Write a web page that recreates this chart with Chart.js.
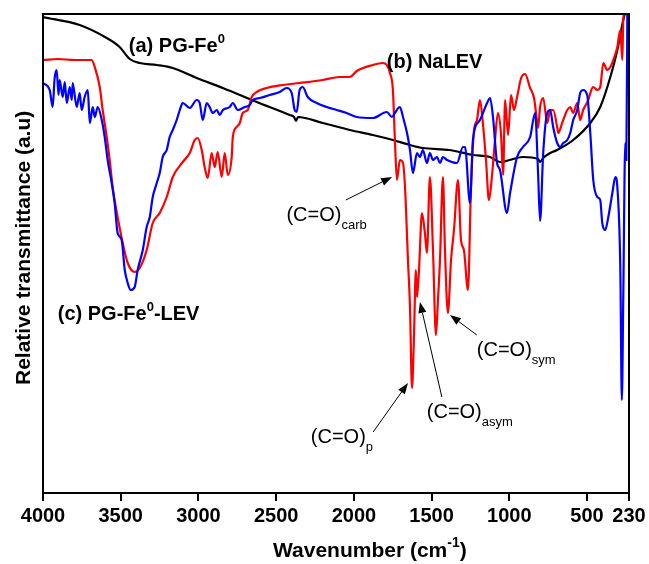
<!DOCTYPE html>
<html>
<head>
<meta charset="utf-8">
<script src="https://cdn.jsdelivr.net/npm/chart.js@4"></script>
<style>
  html, body { margin: 0; padding: 0; background: #fff; }
  #ftir { display: block; }
</style>
</head>
<body>
<canvas id="ftir" width="649" height="564"></canvas>
<script>
// x axis ticks (cm-1)
const tickVals = [4000, 3500, 3000, 2500, 2000, 1500, 1000, 500, 230];

// (a) PG-Fe0
const blackWn = [4000, 3764, 3590, 3507, 3442, 3378, 3268, 3165, 3011, 2843, 2625, 2413, 2385, 2372, 2360, 2200, 2026, 1878, 1749, 1639, 1556, 1382, 1234, 1124, 1060, 912, 815, 802, 782, 737, 692, 589, 479, 415, 350, 305, 267, 247, 230];
const blackT = [47.6, 46.8, 45.5, 44.6, 43.4, 43.0, 42.8, 42.5, 41.5, 40.5, 39.1, 37.8, 37.6, 37.2, 37.6, 37.0, 36.3, 35.8, 35.3, 34.8, 34.5, 34.3, 33.8, 33.6, 33.1, 33.6, 33.4, 33.1, 33.5, 34.0, 34.3, 35.3, 37.0, 38.6, 41.6, 44.3, 47.3, 48.5, 50];

// (b) NaLEV
const redWn = [4000, 3900, 3800, 3687, 3667, 3635, 3616, 3590, 3571, 3552, 3520, 3487, 3455, 3410, 3378, 3333, 3294, 3249, 3204, 3165, 3101, 3056, 3024, 3004, 2979, 2960, 2940, 2915, 2895, 2876, 2850, 2831, 2811, 2786, 2779, 2754, 2734, 2715, 2683, 2657, 2625, 2561, 2458, 2349, 2200, 2091, 2026, 1981, 1878, 1814, 1788, 1768, 1749, 1736, 1723, 1704, 1684, 1671, 1652, 1639, 1626, 1614, 1601, 1594, 1581, 1562, 1543, 1530, 1511, 1491, 1472, 1459, 1446, 1427, 1414, 1395, 1375, 1356, 1330, 1311, 1292, 1266, 1247, 1227, 1208, 1189, 1169, 1150, 1131, 1111, 1092, 1073, 1053, 1040, 1027, 1008, 989, 970, 950, 924, 899, 866, 841, 821, 815, 802, 782, 756, 737, 718, 692, 685, 660, 627, 608, 589, 563, 544, 525, 492, 479, 460, 434, 415, 395, 370, 350, 331, 305, 286, 273, 267, 254];
const redT = [43.3, 43.4, 43.3, 43.3, 42.6, 40.6, 38.3, 35.6, 33.3, 30.6, 27.6, 25.0, 23.0, 22.1, 22.5, 24.3, 27.0, 28.0, 29.6, 31.6, 33.1, 34.0, 35.3, 35.5, 34.3, 32.6, 31.5, 34.0, 32.6, 34.1, 31.6, 34.0, 31.8, 33.6, 35.6, 36.6, 37.0, 38.0, 38.3, 39.6, 40.1, 40.5, 40.8, 41.0, 41.3, 41.6, 41.6, 42.2, 42.8, 43.0, 42.8, 42.0, 40.3, 35.3, 31.3, 33.3, 33.0, 30.6, 23.3, 18.6, 10.5, 15.3, 22.3, 19.6, 22.3, 28.0, 26.0, 24.0, 31.6, 24.3, 15.8, 19.3, 23.3, 31.6, 24.3, 18.0, 23.3, 26.3, 31.3, 25.3, 24.3, 20.3, 30.3, 36.3, 37.3, 39.3, 36.8, 33.3, 29.3, 31.8, 35.3, 38.0, 35.8, 31.8, 39.3, 35.8, 39.8, 38.3, 39.6, 41.5, 41.9, 40.5, 39.5, 37.1, 36.5, 38.6, 39.5, 37.0, 38.3, 38.3, 36.6, 36.0, 37.0, 38.3, 38.6, 38.0, 39.0, 37.3, 38.3, 39.3, 40.0, 40.6, 40.3, 40.6, 43.0, 42.3, 42.6, 43.3, 44.6, 46.3, 43.3, 47.3, 48.5];

// (c) PG-Fe0-LEV
const blueWn = [4000, 3957, 3938, 3925, 3912, 3900, 3893, 3873, 3860, 3847, 3828, 3815, 3809, 3783, 3764, 3751, 3732, 3712, 3699, 3680, 3667, 3648, 3622, 3603, 3584, 3558, 3539, 3520, 3494, 3474, 3455, 3436, 3410, 3391, 3358, 3333, 3313, 3294, 3268, 3249, 3230, 3204, 3185, 3165, 3140, 3120, 3101, 3056, 3011, 2992, 2972, 2947, 2928, 2908, 2882, 2863, 2843, 2799, 2779, 2747, 2702, 2670, 2651, 2606, 2542, 2477, 2432, 2400, 2381, 2368, 2349, 2329, 2297, 2239, 2175, 2110, 2046, 1981, 1878, 1788, 1755, 1736, 1704, 1684, 1658, 1639, 1620, 1594, 1575, 1556, 1530, 1511, 1491, 1466, 1446, 1427, 1401, 1337, 1298, 1285, 1253, 1234, 1189, 1143, 1124, 1105, 1079, 1060, 1015, 995, 950, 912, 866, 834, 815, 802, 782, 756, 737, 718, 692, 672, 653, 627, 608, 589, 563, 544, 525, 499, 479, 460, 434, 415, 402, 383, 363, 337, 318, 305, 286, 276, 267, 254, 247, 240];
const blueT = [41.0, 40.3, 38.6, 41.5, 42.3, 39.8, 41.3, 39.6, 41.1, 39.0, 40.6, 39.3, 41.0, 38.6, 40.0, 38.3, 39.6, 40.3, 37.0, 38.6, 37.6, 38.6, 37.3, 35.6, 33.3, 31.0, 29.0, 26.0, 25.3, 22.3, 21.0, 20.3, 20.6, 22.3, 24.3, 26.6, 27.6, 29.6, 31.0, 32.0, 33.6, 34.3, 35.6, 36.3, 37.3, 38.3, 39.0, 38.5, 39.3, 39.0, 37.3, 39.0, 38.6, 38.0, 38.3, 37.8, 38.3, 38.6, 39.0, 38.3, 38.6, 38.8, 39.3, 39.5, 39.8, 40.1, 40.5, 40.0, 38.3, 38.1, 40.3, 40.6, 39.6, 39.0, 38.6, 38.3, 38.0, 37.6, 37.5, 38.1, 37.6, 38.0, 38.6, 37.6, 36.0, 34.3, 32.0, 34.0, 33.6, 34.3, 33.0, 34.0, 33.3, 33.6, 33.0, 33.6, 33.3, 33.0, 34.6, 34.6, 29.0, 35.3, 37.3, 39.0, 39.5, 37.6, 33.0, 32.3, 28.0, 30.0, 33.6, 34.6, 35.6, 38.0, 32.0, 27.2, 34.0, 38.0, 38.3, 36.6, 35.0, 34.6, 35.0, 35.3, 36.0, 37.3, 38.3, 40.0, 40.3, 39.8, 36.0, 31.3, 29.6, 29.3, 27.0, 26.3, 27.6, 30.0, 31.6, 30.6, 22.6, 9.3, 19.3, 35.0, 33.3, 50];

const FONT = '"Liberation Sans", Arial, Helvetica, sans-serif';
const B20 = 'bold 20px ' + FONT;
const B21 = 'bold 21px ' + FONT;
const B13 = 'bold 13px ' + FONT;
const B14 = 'bold 14px ' + FONT;
const R20 = '20px ' + FONT;
const R13 = '13px ' + FONT;

// text labels anchored in data units (wavenumber, transmittance), left/baseline
const notes = [
    { wn: 3448, t: 44.1, runs: [{ text: '(a) PG-Fe', font: B20 }, { text: '0', font: B13, dy: -9 }] },
    { wn: 1788, t: 42.5, runs: [{ text: '(b) NaLEV', font: B20 }] },
    { wn: 3905, t: 17.3, runs: [{ text: '(c) PG-Fe', font: B20 }, { text: '0', font: B13, dy: -9 }, { text: '-LEV', font: B20 }] },
    { wn: 2434, t: 27.2, runs: [{ text: '(C=O)', font: R20 }, { text: 'carb', font: R13, dy: 8 }] },
    { wn: 2277, t: 5.0, runs: [{ text: '(C=O)', font: R20 }, { text: 'p', font: R13, dy: 8 }] },
    { wn: 1531, t: 7.5, runs: [{ text: '(C=O)', font: R20 }, { text: 'asym', font: R13, dy: 8 }] },
    { wn: 1209, t: 13.7, runs: [{ text: '(C=O)', font: R20 }, { text: 'sym', font: R13, dy: 8 }] }
];
const arrows = [
    { from: [2052, 29.3], to: [1754, 31.6] },
    { from: [1876, 6.1], to: [1652, 11.0] },
    { from: [1434, 9.6], to: [1575, 19.1] },
    { from: [1209, 15.8], to: [1382, 17.8] }
];

function pts(wn, t) {
    return wn.map((w, i) => ({ x: w, y: t[i] }));
}

function drawRuns(ctx, x, y, runs) {
    runs.forEach(r => {
        ctx.font = r.font;
        ctx.fillText(r.text, x, y + (r.dy || 0));
        x += ctx.measureText(r.text).width;
    });
}

const decor = {
    id: 'decor',
    afterDatasetsDraw(chart) {
        const ctx = chart.ctx;
        const xs = chart.scales.x, ys = chart.scales.y;
        const a = chart.chartArea;
        ctx.save();
        ctx.fillStyle = '#000';
        ctx.strokeStyle = '#000';
        ctx.textBaseline = 'alphabetic';
        ctx.textAlign = 'left';
        notes.forEach(n => drawRuns(ctx, xs.getPixelForValue(n.wn), ys.getPixelForValue(n.t), n.runs));

        ctx.lineWidth = 1;
        arrows.forEach(ar => {
            const x1 = xs.getPixelForValue(ar.from[0]), y1 = ys.getPixelForValue(ar.from[1]);
            const x2 = xs.getPixelForValue(ar.to[0]), y2 = ys.getPixelForValue(ar.to[1]);
            const ang = Math.atan2(y2 - y1, x2 - x1);
            const hl = 11, hw = 4;
            const bx = x2 - hl * Math.cos(ang), by = y2 - hl * Math.sin(ang);
            ctx.beginPath();
            ctx.moveTo(x1, y1);
            ctx.lineTo(bx, by);
            ctx.stroke();
            ctx.beginPath();
            ctx.moveTo(x2, y2);
            ctx.lineTo(bx + hw * Math.sin(ang), by - hw * Math.cos(ang));
            ctx.lineTo(bx - hw * Math.sin(ang), by + hw * Math.cos(ang));
            ctx.closePath();
            ctx.fill();
        });

        // frame
        ctx.lineWidth = 2;
        ctx.strokeRect(a.left, a.top, a.right - a.left, a.bottom - a.top);

        // axis titles
        drawRuns(ctx, a.left + 230, a.bottom + 64, [
            { text: 'Wavenumber (cm', font: B21 },
            { text: '-1', font: B14, dy: -10 },
            { text: ')', font: B21 }
        ]);
        ctx.translate(30, a.top + 371);
        ctx.rotate(-Math.PI / 2);
        ctx.font = B21;
        ctx.fillText('Relative transmittance (a.u)', 0, 0);
        ctx.restore();
    }
};

const lineStyle = {
    borderWidth: 2.2,
    pointRadius: 0,
    cubicInterpolationMode: 'monotone'
};

const ctx = document.getElementById('ftir').getContext('2d');
new Chart(ctx, {
    type: 'line',
    data: {
        datasets: [{
            label: '(c) PG-Fe0-LEV',
            data: pts(blueWn, blueT),
            borderColor: '#0000ff',
            ...lineStyle
        }, {
            label: '(b) NaLEV',
            data: pts(redWn, redT),
            borderColor: '#ff0000',
            ...lineStyle
        }, {
            label: '(a) PG-Fe0',
            data: pts(blackWn, blackT),
            borderColor: '#000000',
            ...lineStyle
        }]
    },
    options: {
        responsive: false,
        animation: false,
        events: [],
        layout: { padding: { top: 14, right: 20, left: 0, bottom: 0 } },
        plugins: {
            legend: { display: false },
            tooltip: { enabled: false }
        },
        scales: {
            x: {
                type: 'linear',
                reverse: true,
                min: 230,
                max: 4000,
                afterBuildTicks: s => { s.ticks = tickVals.map(v => ({ value: v })); },
                afterFit: s => { s.height = 71; },
                grid: { drawOnChartArea: false, drawTicks: true, tickLength: 8, color: '#000', lineWidth: 2 },
                border: { display: true, color: '#000', width: 2 },
                ticks: {
                    color: '#000',
                    font: { family: FONT, size: 20, weight: 'bold' },
                    padding: 3,
                    maxRotation: 0,
                    autoSkip: false,
                    callback: v => String(v)
                }
            },
            y: {
                min: 0,
                max: 47.9,
                ticks: { display: false },
                grid: { display: false, drawTicks: false },
                border: { display: true, color: '#000', width: 2 },
                afterFit: s => { s.width = 43; }
            }
        }
    },
    plugins: [decor]
});
</script>
</body>
</html>
